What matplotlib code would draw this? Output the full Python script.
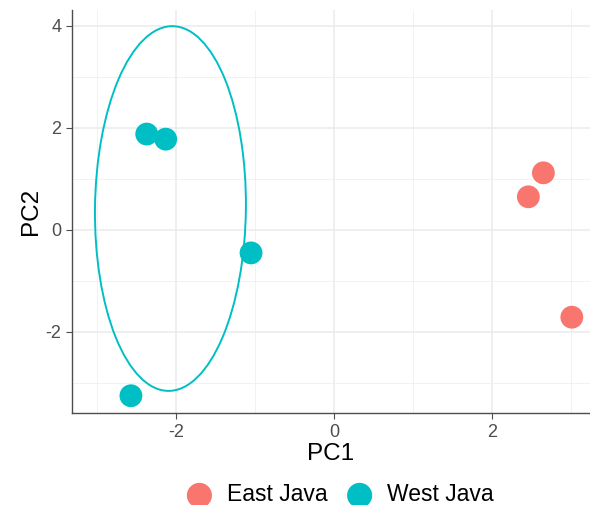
import matplotlib
matplotlib.use("Agg")
import matplotlib.pyplot as plt
from matplotlib.patches import Ellipse

plt.rcParams['font.family'] = ['Liberation Sans', 'DejaVu Sans']
plt.rcParams['axes.unicode_minus'] = False

# PCA scores
groups = ['East Java', 'West Java']
colors = ['#F8766D', '#00BFC4']
east_pc1 = [2.65, 2.46, 3.01]
east_pc2 = [1.12, 0.65, -1.71]
west_pc1 = [-2.37, -2.13, -1.05, -2.57]
west_pc2 = [1.88, 1.78, -0.45, -3.25]

# West Java confidence ellipse, as drawn in the picture
ell_center = (-2.07, 0.42)
ell_major = 3.575   # semi axis, nearly vertical
ell_minor = 0.955
ell_angle = 89.6

fig = plt.figure(figsize=(5.9, 5.05), dpi=100)
ax = fig.add_axes([0.122, 0.182, 0.878, 0.798])

ax.add_patch(Ellipse(ell_center, 2 * ell_major, 2 * ell_minor, angle=ell_angle,
                     fill=False, edgecolor=colors[1], lw=1.4, zorder=2))

ax.scatter(east_pc1, east_pc2, s=270, color=colors[0], edgecolors='none', zorder=3, label=groups[0])
ax.scatter(west_pc1, west_pc2, s=270, color=colors[1], edgecolors='none', zorder=3, label=groups[1])

ax.set_xlim(-3.316, 3.24)
ax.set_ylim(-3.59, 4.31)
ax.set_xticks([-2, 0, 2])
ax.set_yticks([-2, 0, 2, 4])
ax.set_xticks([-3, -1, 1, 3], minor=True)
ax.set_yticks([-3, -1, 1, 3], minor=True)
ax.grid(which='major', color='#EBEBEB', lw=1.1)
ax.grid(which='minor', color='#F0F0F0', lw=0.6)
ax.set_axisbelow(True)

for s in ['top', 'right']:
    ax.spines[s].set_visible(False)
for s in ['left', 'bottom']:
    ax.spines[s].set_color('#4D4D4D')
    ax.spines[s].set_linewidth(1.0)

ax.tick_params(which='major', length=4, color='#4D4D4D', labelcolor='#4D4D4D', labelsize=13)
ax.tick_params(which='minor', length=0)
ax.set_xlabel('PC1', fontsize=17.5, labelpad=2)
ax.set_ylabel('PC2', fontsize=17.5, labelpad=3)

fig.legend(loc='center', bbox_to_anchor=(0.568, 0.02), ncol=2, frameon=False,
           fontsize=16.5, handletextpad=0.2, columnspacing=0.4, markerscale=1.1)

fig.savefig('out.png', dpi=100)
